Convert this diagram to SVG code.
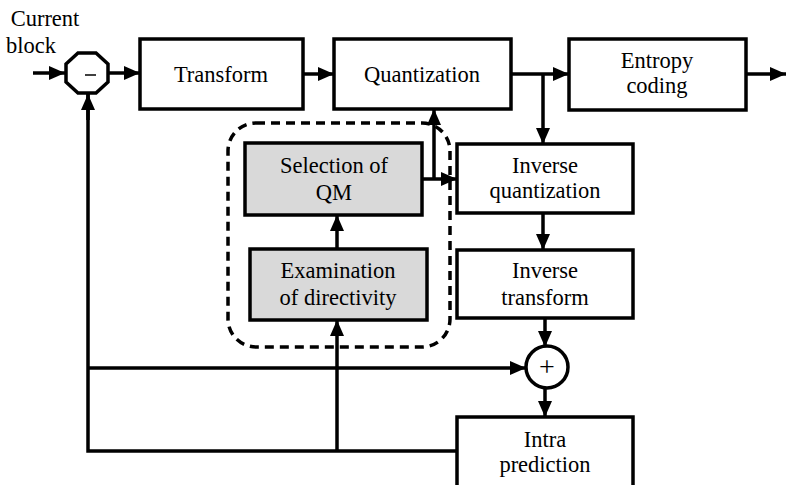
<svg xmlns="http://www.w3.org/2000/svg" width="786" height="485" viewBox="0 0 786 485" font-family="Liberation Serif, DejaVu Serif, Times New Roman, serif" font-size="22.5">
<style>
.box{fill:#fff;stroke:#000;stroke-width:3.5}
.gray{fill:#d9d9d9;stroke:#000;stroke-width:3.5}
.ln{fill:none;stroke:#000;stroke-width:3.5}
.dash{fill:none;stroke:#000;stroke-width:3.5;stroke-dasharray:9,6}
</style>
<defs>
<marker id="ah" markerUnits="userSpaceOnUse" markerWidth="16" markerHeight="16" viewBox="0 0 16 16" refX="16" refY="8" orient="auto">
<path d="M0,1 L16,8 L0,15 Z" fill="#000"/>
</marker>
</defs>
<g id="connectors">
<line class="ln" x1="33" y1="73" x2="65" y2="73" marker-end="url(#ah)"/>
<line class="ln" x1="109" y1="73" x2="140" y2="73" marker-end="url(#ah)"/>
<line class="ln" x1="303" y1="74" x2="334" y2="74" marker-end="url(#ah)"/>
<line class="ln" x1="511" y1="74" x2="569" y2="74" marker-end="url(#ah)"/>
<line class="ln" x1="746" y1="74" x2="786" y2="74" marker-end="url(#ah)"/>
<line class="ln" x1="543" y1="74" x2="543" y2="144" marker-end="url(#ah)"/>
<line class="ln" x1="543" y1="213" x2="543" y2="250" marker-end="url(#ah)"/>
<line class="ln" x1="545" y1="318" x2="545" y2="347" marker-end="url(#ah)"/>
<line class="ln" x1="545" y1="388" x2="545" y2="417" marker-end="url(#ah)"/>
<line class="ln" x1="422" y1="179" x2="457" y2="179" marker-end="url(#ah)"/>
<line class="ln" x1="434" y1="179" x2="434" y2="109" marker-end="url(#ah)"/>
<line class="ln" x1="337" y1="249" x2="337" y2="215" marker-end="url(#ah)"/>
<polyline class="ln" points="457,451 88,451 88,94"/>
<line class="ln" x1="88" y1="120" x2="88" y2="94" marker-end="url(#ah)"/>
<line class="ln" x1="88" y1="368" x2="526" y2="368" marker-end="url(#ah)"/>
<line class="ln" x1="337" y1="451" x2="337" y2="320" marker-end="url(#ah)"/>
</g>
<g id="group-box">
<rect class="dash" x="228" y="123" width="222" height="224" rx="28" ry="28"/>
</g>
<g text-anchor="middle" fill="#000">
<g id="label-current">
<text x="45" y="26">Current</text>
<text x="31" y="53">block</text>
</g>
<g id="minus">
<polygon class="box" points="78,53 96,53 108,64 108,82 96,93 78,93 66,82 66,64"/>
<line x1="85" y1="75" x2="96" y2="75" stroke="#000" stroke-width="1.5"/>
</g>
<g id="transform">
<rect class="box" x="140" y="39" width="163" height="70"/>
<text x="221" y="82">Transform</text>
</g>
<g id="quantization">
<rect class="box" x="334" y="39" width="177" height="70"/>
<text x="422" y="82">Quantization</text>
</g>
<g id="entropy">
<rect class="box" x="569" y="39" width="177" height="71"/>
<text x="657" y="68">Entropy</text>
<text x="657" y="93">coding</text>
</g>
<g id="selection">
<rect class="gray" x="245" y="143" width="177" height="72"/>
<text x="334" y="173">Selection of</text>
<text x="334" y="200">QM</text>
</g>
<g id="examination">
<rect class="gray" x="250" y="249" width="177" height="71"/>
<text x="338" y="278">Examination</text>
<text x="338" y="305">of directivity</text>
</g>
<g id="inverse-quantization">
<rect class="box" x="457" y="144" width="176" height="69"/>
<text x="545" y="173">Inverse</text>
<text x="545" y="198">quantization</text>
</g>
<g id="inverse-transform">
<rect class="box" x="457" y="250" width="176" height="68"/>
<text x="545" y="278">Inverse</text>
<text x="545" y="305">transform</text>
</g>
<g id="plus">
<circle class="box" cx="547" cy="367" r="21"/>
<text x="547" y="376" font-size="28">+</text>
</g>
<g id="intra">
<rect class="box" x="457" y="417" width="176" height="80"/>
<text x="545" y="447">Intra</text>
<text x="545" y="472">prediction</text>
</g>
</g>
</svg>
